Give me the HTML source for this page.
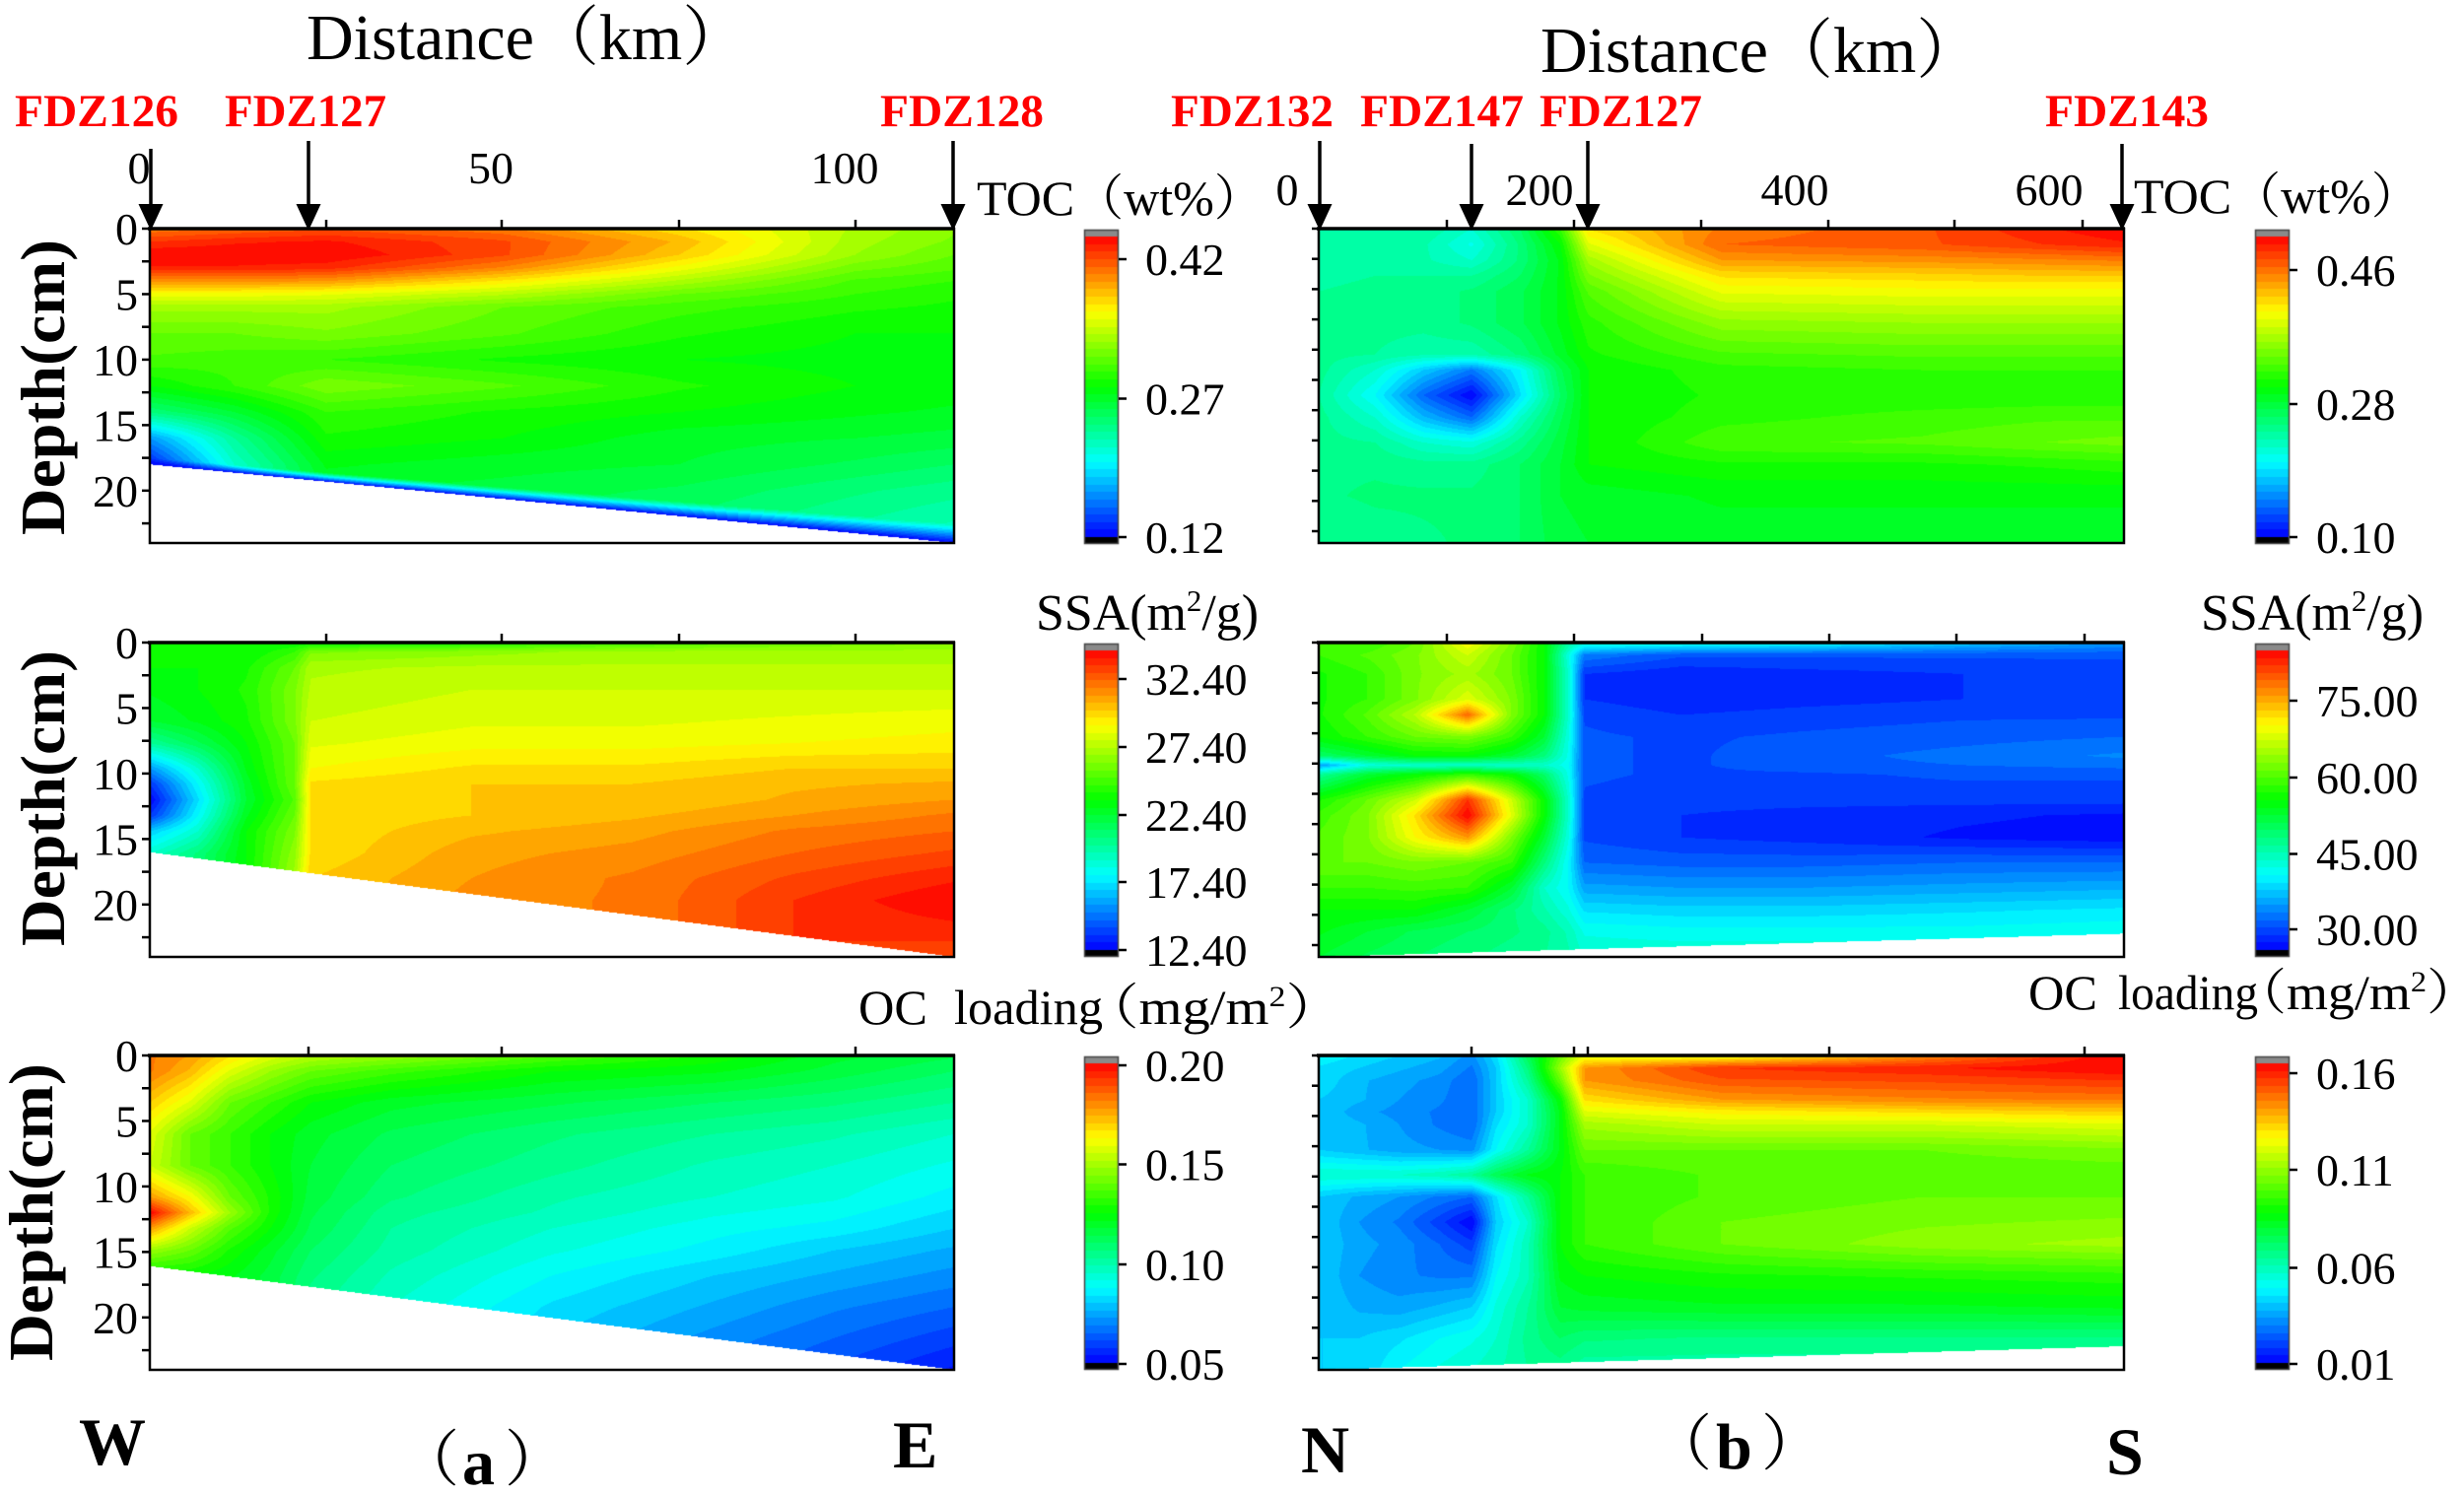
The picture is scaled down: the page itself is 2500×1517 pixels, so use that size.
<!DOCTYPE html>
<html><head><meta charset="utf-8">
<style>
html,body{margin:0;padding:0;background:#fff;}
#wrap{position:relative;width:2500px;height:1517px;overflow:hidden;background:#fff;}
canvas{position:absolute;left:0;top:0;}
svg{position:absolute;left:0;top:0;}
text{font-family:"Liberation Serif","Noto Serif CJK SC",serif;fill:#000;}
.b{font-weight:bold;}
.r{fill:#ff0000;font-weight:bold;font-size:47px;}
.t{font-size:46px;}
</style></head>
<body><div id="wrap">
<canvas id="c" width="2500" height="1517"></canvas>
<svg id="s" width="2500" height="1517" viewBox="0 0 2500 1517">
<!-- titles -->
<text x="311" y="60" font-size="66">Distance（km）</text>
<text x="1563" y="73" font-size="66">Distance（km）</text>
<!-- station labels -->
<text class="r" x="15" y="128" textLength="166" lengthAdjust="spacingAndGlyphs">FDZ126</text>
<text class="r" x="228" y="128" textLength="164" lengthAdjust="spacingAndGlyphs">FDZ127</text>
<text class="r" x="893" y="128" textLength="166" lengthAdjust="spacingAndGlyphs">FDZ128</text>
<text class="r" x="1188" y="128" textLength="165" lengthAdjust="spacingAndGlyphs">FDZ132</text>
<text class="r" x="1380" y="128" textLength="166" lengthAdjust="spacingAndGlyphs">FDZ147</text>
<text class="r" x="1562" y="128" textLength="165" lengthAdjust="spacingAndGlyphs">FDZ127</text>
<text class="r" x="2075" y="128" textLength="166" lengthAdjust="spacingAndGlyphs">FDZ143</text>
<!-- x tick labels -->
<text class="t" x="141" y="186" text-anchor="middle">0</text>
<text class="t" x="498" y="186" text-anchor="middle">50</text>
<text class="t" x="857" y="186" text-anchor="middle">100</text>
<text class="t" x="1306" y="208" text-anchor="middle">0</text>
<text class="t" x="1562" y="208" text-anchor="middle">200</text>
<text class="t" x="1821" y="208" text-anchor="middle">400</text>
<text class="t" x="2079" y="208" text-anchor="middle">600</text>
<!-- colorbar titles -->
<text x="991" y="218" font-size="50">TOC（wt%）</text>
<text x="2165" y="216" font-size="50">TOC（wt%）</text>
<text x="1051" y="639" font-size="52" textLength="226" lengthAdjust="spacingAndGlyphs">SSA(m<tspan dy="-19" font-size="31">2</tspan><tspan dy="19">/g)</tspan></text>
<text x="2233" y="639" font-size="52" textLength="226" lengthAdjust="spacingAndGlyphs">SSA(m<tspan dy="-19" font-size="31">2</tspan><tspan dy="19">/g)</tspan></text>
<text x="871" y="1039" font-size="50" textLength="70" lengthAdjust="spacingAndGlyphs">OC</text>
<text x="968" y="1039" font-size="50" textLength="151" lengthAdjust="spacingAndGlyphs">loading</text>
<text x="1099" y="1039" font-size="50" textLength="262" lengthAdjust="spacingAndGlyphs">（mg/m<tspan dy="-18" font-size="30">2</tspan><tspan dy="18">）</tspan></text>
<text x="2058" y="1024" font-size="50" textLength="70" lengthAdjust="spacingAndGlyphs">OC</text>
<text x="2149" y="1024" font-size="50" textLength="142" lengthAdjust="spacingAndGlyphs">loading</text>
<text x="2266" y="1024" font-size="50" textLength="250" lengthAdjust="spacingAndGlyphs">（mg/m<tspan dy="-18" font-size="30">2</tspan><tspan dy="18">）</tspan></text>
<!-- depth labels -->
<text class="b" font-size="64" text-anchor="middle" transform="translate(65,393) rotate(-90)" textLength="300" lengthAdjust="spacingAndGlyphs">Depth(cm)</text>
<text class="b" font-size="64" text-anchor="middle" transform="translate(65,810) rotate(-90)" textLength="300" lengthAdjust="spacingAndGlyphs">Depth(cm)</text>
<text class="b" font-size="64" text-anchor="middle" transform="translate(53,1230) rotate(-90)" textLength="302" lengthAdjust="spacingAndGlyphs">Depth(cm)</text>
<!-- y tick labels -->
<text class="t" x="140" y="248" text-anchor="end">0</text>
<text class="t" x="140" y="314.5" text-anchor="end">5</text>
<text class="t" x="140" y="381" text-anchor="end">10</text>
<text class="t" x="140" y="447.5" text-anchor="end">15</text>
<text class="t" x="140" y="514" text-anchor="end">20</text>
<text class="t" x="140" y="668" text-anchor="end">0</text>
<text class="t" x="140" y="734.5" text-anchor="end">5</text>
<text class="t" x="140" y="801" text-anchor="end">10</text>
<text class="t" x="140" y="867.5" text-anchor="end">15</text>
<text class="t" x="140" y="934" text-anchor="end">20</text>
<text class="t" x="140" y="1087" text-anchor="end">0</text>
<text class="t" x="140" y="1153.5" text-anchor="end">5</text>
<text class="t" x="140" y="1220" text-anchor="end">10</text>
<text class="t" x="140" y="1286.5" text-anchor="end">15</text>
<text class="t" x="140" y="1353" text-anchor="end">20</text>
<!-- colorbar labels -->
<text class="t" x="1162" y="279">0.42</text>
<text class="t" x="1162" y="420.5">0.27</text>
<text class="t" x="1162" y="561">0.12</text>
<text class="t" x="2350" y="290">0.46</text>
<text class="t" x="2350" y="426">0.28</text>
<text class="t" x="2350" y="561">0.10</text>
<text class="t" x="1162" y="705">32.40</text>
<text class="t" x="1162" y="774">27.40</text>
<text class="t" x="1162" y="843">22.40</text>
<text class="t" x="1162" y="911">17.40</text>
<text class="t" x="1162" y="980">12.40</text>
<text class="t" x="2350" y="727">75.00</text>
<text class="t" x="2350" y="805">60.00</text>
<text class="t" x="2350" y="882.5">45.00</text>
<text class="t" x="2350" y="959">30.00</text>
<text class="t" x="1162" y="1097">0.20</text>
<text class="t" x="1162" y="1197.5">0.15</text>
<text class="t" x="1162" y="1299">0.10</text>
<text class="t" x="1162" y="1400">0.05</text>
<text class="t" x="2350" y="1105">0.16</text>
<text class="t" x="2350" y="1203">0.11</text>
<text class="t" x="2350" y="1302.5">0.06</text>
<text class="t" x="2350" y="1400">0.01</text>
<!-- bottom letters -->
<text class="b" x="80" y="1486" font-size="68">W</text>
<text class="b" x="906" y="1489" font-size="68">E</text>
<text class="b" x="1320" y="1494" font-size="68">N</text>
<text class="b" x="2137" y="1496" font-size="68">S</text>
<text x="404" y="1502" font-size="62">（</text>
<text class="b" x="469" y="1506" font-size="66">a</text>
<text x="512" y="1502" font-size="62">）</text>
<text x="1675" y="1486" font-size="62">（</text>
<text class="b" x="1741" y="1490" font-size="66">b</text>
<text x="1787" y="1486" font-size="62">）</text>
<g id="g"></g>
</svg>
</div>
<script>
(function(){
var cv=document.getElementById('c'),ctx=cv.getContext('2d');
var N=40,LUT=[];
var st=[[0,0,0,255],[.25,0,255,255],[.5,0,255,0],[.75,255,255,0],[1,255,0,0]];
function raw(t){for(var i=0;i<4;i++){if(t<=st[i+1][0]){var f=(t-st[i][0])/(st[i+1][0]-st[i][0]);return [Math.round(st[i][1]+f*(st[i+1][1]-st[i][1])),Math.round(st[i][2]+f*(st[i+1][2]-st[i][2])),Math.round(st[i][3]+f*(st[i+1][3]-st[i][3]))];}}return [255,0,0];}
for(var q=0;q<N;q++)LUT.push(raw((q+0.5)/N));
function col(t){if(!(t>=0))t=0;if(t>1)t=1;var q=Math.floor(t*N);if(q>=N)q=N-1;return LUT[q];}
function ip(a,v){var i=0;while(i<a.length-2&&v>a[i+1])i++;var f=(v-a[i])/(a[i+1]-a[i]);if(f<0)f=0;if(f>1)f=1;return [i,f];}
function plot(X,Y,W,H,cols,rows,V,bnd,edge){
 var img=ctx.createImageData(W,H),d=img.data;
 for(var py=0;py<H;py++){var fy=(py+0.5)/H;var r=ip(rows,fy),j=r[0],g=r[1];
  for(var px=0;px<W;px++){var fx=(px+0.5)/W;var k=(py*W+px)*4;
   if(bnd&&fy>bnd(fx)){d[k]=d[k+1]=d[k+2]=255;d[k+3]=255;continue;}
   var c=ip(cols,fx),i=c[0],f=c[1];
   var t=(1-f)*((1-g)*V[i][j]+g*V[i][j+1])+f*((1-g)*V[i+1][j]+g*V[i+1][j+1]);
   if(edge){var w=edge.w0+(edge.w1-edge.w0)*fx;var dist=bnd(fx)-fy;if(dist<w){var s=dist/w;if(s<0)s=0;t=edge.v+(t-edge.v)*s;}}
   var cc=col(t);d[k]=cc[0];d[k+1]=cc[1];d[k+2]=cc[2];d[k+3]=255;}}
 ctx.putImageData(img,X,Y);}
function rowsT(rows,V){var nc=V[0].length,out=[];for(var c=0;c<nc;c++){out.push([]);for(var r=0;r<rows.length;r++)out[c].push(V[r][c]);}return out;}

// Top-left TOC
var tlC=[0,0.105,0.219,0.439,0.658,0.877,1.0];
var tlD=[0,1,2,3,4,5,6,8,10,12,14,16,18,20,24];var tlR=tlD.map(function(x){return x/24;});
var tlV=rowsT(tlR,[
[.88,.9,.92,.88,.78,.67,.63],
[.95,.97,.98,.93,.82,.66,.62],
[1.0,1.0,1.0,.93,.8,.65,.6],
[.97,.97,.96,.87,.74,.61,.58],
[.86,.86,.85,.77,.67,.57,.55],
[.74,.74,.73,.68,.6,.55,.53],
[.66,.66,.66,.6,.56,.53,.52],
[.6,.6,.62,.58,.53,.5,.5],
[.57,.56,.55,.52,.5,.49,.49],
[.5,.55,.62,.58,.53,.5,.49],
[.38,.45,.55,.52,.5,.48,.47],
[.15,.35,.52,.5,.46,.45,.44],
[.02,.3,.48,.46,.45,.42,.4],
[.02,.3,.45,.44,.42,.38,.36],
[.02,.3,.4,.4,.38,.33,.3]]);
plot(152,232,816,319,tlC,tlR,tlV,function(fx){return 0.75+0.25*fx;},{w0:0.02,w1:0.06,v:0.0});

// Top-right TOC
var trC=[0,.07,.13,.19,.25,.3,.335,.5,.75,.9,1.0];
var trR=[0,.05,.1,.15,.2,.3,.4,.45,.53,.6,.68,.75,.85,1.0];
var trV=[
[.33,.33,.33,.34,.35,.35,.36,.36,.35,.36,.36,.37,.37,.35],
[.35,.34,.34,.35,.36,.36,.35,.3,.25,.3,.35,.37,.38,.36],
[.35,.33,.33,.35,.36,.36,.33,.2,.1,.18,.3,.36,.38,.37],
[.3,.27,.3,.35,.38,.38,.33,.12,.0,.1,.28,.36,.38,.38],
[.4,.38,.38,.4,.42,.42,.38,.25,.22,.3,.36,.4,.4,.4],
[.55,.5,.48,.48,.48,.48,.46,.42,.4,.42,.44,.45,.45,.44],
[.78,.72,.66,.62,.58,.54,.52,.5,.5,.5,.5,.5,.46,.45],
[.88,.9,.85,.78,.73,.64,.57,.54,.53,.54,.57,.52,.48,.46],
[.92,.92,.86,.79,.74,.65,.58,.55,.53,.56,.58,.52,.48,.46],
[.97,.95,.87,.8,.74,.65,.58,.55,.53,.57,.6,.53,.48,.46],
[1,.97,.88,.8,.74,.65,.58,.55,.53,.57,.61,.54,.48,.46]];
plot(1338,232,817,319,trC,trR,trV,null,null);

// Middle-left SSA
var mlC=[0,.06,.12,.18,.2,.4,.6,.8,1.0];
var mlR=[0,.03,.08,.15,.25,.32,.4,.45,.5,.55,.6,.67,.75,.82,.9,1.0];
var mlV=[
[.5,.5,.5,.48,.45,.35,.15,.05,.0,.05,.2,.3,.3,.3,.3,.3],
[.5,.5,.5,.5,.48,.42,.3,.25,.22,.25,.3,.38,.4,.4,.4,.4],
[.5,.5,.52,.53,.52,.5,.48,.46,.45,.47,.5,.5,.5,.5,.5,.5],
[.5,.55,.6,.62,.62,.6,.6,.6,.58,.6,.62,.64,.66,.66,.66,.66],
[.5,.62,.67,.68,.7,.72,.75,.78,.78,.78,.78,.78,.8,.8,.8,.8],
[.52,.64,.68,.7,.72,.74,.78,.8,.8,.8,.82,.84,.85,.86,.86,.86],
[.56,.66,.68,.7,.72,.74,.78,.8,.8,.82,.84,.86,.88,.88,.88,.88],
[.6,.66,.68,.7,.73,.75,.8,.82,.83,.85,.88,.9,.93,.95,.95,.95],
[.62,.66,.68,.7,.74,.76,.8,.83,.85,.88,.9,.93,.97,1.0,.97,.93]];
plot(152,652,816,319,mlC,mlR,mlV,function(fx){return 0.667+0.333*fx;},null);

// Middle-right SSA
var mrC=[0,.06,.12,.185,.24,.28,.31,.33,.45,.6,.8,1.0];
var mrR=[0,.04,.1,.18,.23,.3,.36,.39,.42,.5,.55,.62,.7,.78,.85,.92,1.0];
var mrV=[
[.55,.55,.52,.52,.52,.5,.4,.15,.35,.52,.56,.58,.6,.55,.5,.48,.45],
[.55,.58,.55,.55,.58,.55,.45,.28,.45,.6,.62,.62,.6,.55,.5,.45,.42],
[.6,.62,.62,.62,.68,.6,.5,.3,.5,.7,.78,.75,.62,.56,.5,.42,.4],
[.75,.7,.66,.72,.9,.62,.5,.3,.55,.95,1.0,.85,.6,.55,.45,.4,.38],
[.62,.6,.6,.62,.62,.55,.45,.3,.5,.7,.72,.62,.55,.45,.38,.38,.36],
[.5,.5,.5,.5,.5,.45,.38,.3,.4,.5,.5,.45,.38,.3,.33,.36,.35],
[.35,.28,.3,.3,.3,.28,.27,.26,.27,.3,.3,.28,.25,.25,.28,.32,.33],
[.3,.12,.05,.05,.07,.08,.08,.08,.08,.07,.07,.07,.1,.16,.22,.27,.3],
[.28,.08,.03,.03,.05,.07,.07,.07,.07,.06,.05,.05,.09,.15,.21,.26,.3],
[.26,.08,.04,.04,.06,.08,.09,.09,.07,.06,.04,.04,.09,.15,.21,.26,.3],
[.2,.08,.05,.05,.07,.09,.11,.1,.08,.06,.03,.02,.1,.16,.22,.26,.3],
[.15,.08,.06,.06,.07,.1,.13,.11,.08,.06,.02,.01,.1,.17,.23,.27,.3]];
plot(1338,652,817,319,mrC,mrR,mrV,function(fx){return 1.0-0.074*fx;},null);

// Bottom-left OC
var blC=[0,.05,.1,.15,.2,.3,.5,.7,.85,1.0];
var blR=[0,.05,.15,.25,.35,.45,.5,.55,.62,.7,.8,.9,1.0];
var blV=[
[.88,.88,.8,.72,.7,.85,1.0,.85,.65,.5,.5,.5,.5],
[.85,.82,.72,.6,.6,.75,.82,.7,.6,.5,.5,.5,.5],
[.78,.72,.6,.55,.55,.6,.65,.58,.52,.48,.47,.47,.47],
[.72,.65,.55,.5,.5,.52,.52,.5,.46,.44,.44,.44,.44],
[.68,.6,.5,.46,.45,.44,.43,.42,.4,.38,.36,.36,.36],
[.65,.56,.46,.42,.4,.38,.36,.35,.34,.32,.3,.3,.3],
[.58,.5,.43,.38,.36,.33,.32,.3,.28,.25,.22,.2,.2],
[.52,.48,.4,.35,.32,.3,.28,.26,.24,.2,.17,.14,.12],
[.46,.44,.38,.33,.3,.28,.26,.24,.2,.17,.13,.1,.07],
[.43,.4,.35,.3,.27,.24,.22,.2,.17,.14,.1,.06,.02]];
plot(152,1071,816,319,blC,blR,blV,function(fx){return 0.67+0.33*fx;},null);

// Bottom-right OC
var brC=[0,.05,.1,.15,.19,.22,.26,.3,.33,.5,.75,1.0];
var brR=[0,.04,.08,.14,.18,.22,.3,.38,.45,.53,.6,.7,.8,.9,1.0];
var brV=[
[.25,.22,.22,.2,.2,.2,.2,.3,.2,.2,.2,.2,.2,.2,.2],
[.22,.2,.18,.18,.16,.18,.18,.3,.17,.15,.16,.15,.17,.2,.2],
[.2,.18,.16,.15,.14,.15,.16,.3,.15,.12,.14,.13,.16,.22,.25],
[.18,.16,.14,.13,.12,.12,.15,.32,.12,.06,.1,.12,.18,.25,.28],
[.14,.12,.1,.1,.1,.1,.14,.35,.1,.0,.06,.12,.2,.27,.3],
[.22,.2,.2,.2,.2,.22,.25,.42,.22,.2,.22,.25,.28,.3,.32],
[.42,.38,.35,.3,.3,.3,.35,.48,.35,.3,.32,.32,.35,.36,.35],
[.6,.65,.6,.5,.48,.48,.48,.5,.5,.5,.5,.48,.45,.4,.36],
[.72,.85,.85,.78,.72,.66,.6,.55,.55,.55,.55,.5,.46,.38,.33],
[.72,.95,.92,.85,.76,.7,.6,.58,.58,.6,.6,.52,.47,.37,.33],
[.86,.97,.93,.87,.78,.7,.6,.58,.6,.62,.64,.53,.47,.37,.33],
[1,1,.95,.88,.8,.72,.62,.58,.6,.63,.66,.54,.48,.37,.33]];
plot(1338,1071,817,319,brC,brR,brV,function(fx){return 1.0-0.075*fx;},null);

// colorbars
function cbar(x,top,bot){
 var w=35;ctx.fillStyle='#8a8a8a';ctx.fillRect(x,top,w,7);
 ctx.fillStyle='#000';ctx.fillRect(x,bot-7,w,7);
 var a=top+7,b=bot-7;
 for(var y=a;y<b;y++){var t=(b-y-0.5)/(b-a);var c=col(t);ctx.fillStyle='rgb('+c[0]+','+c[1]+','+c[2]+')';ctx.fillRect(x,y,w,1);}
 ctx.strokeStyle='#444';ctx.lineWidth=1.5;ctx.strokeRect(x+0.5,top+0.5,w-1,bot-top-1);}
cbar(1100,233,552);cbar(2288,233,552);
cbar(1100,653,971);cbar(2288,653,971);
cbar(1100,1072,1390);cbar(2288,1072,1390);

// svg lines
var g=document.getElementById('g'),NS='http://www.w3.org/2000/svg';
function el(n,a){var e=document.createElementNS(NS,n);for(var k in a)e.setAttribute(k,a[k]);g.appendChild(e);return e;}
function ln(x1,y1,x2,y2,w){el('line',{x1:x1,y1:y1,x2:x2,y2:y2,stroke:'#000','stroke-width':w||2.5});}
var P=[[152,232,816],[1338,232,817],[152,652,816],[1338,652,817],[152,1071,816],[1338,1071,817]];
P.forEach(function(p){el('rect',{x:p[0],y:p[1],width:p[2],height:319,fill:'none',stroke:'#000','stroke-width':2.5});ln(p[0]-2,p[1],p[0]+p[2]+1,p[1],3.5);});
[232,652,1071].forEach(function(y0){for(var k=0;k<10;k++){var y=y0+k*33.23;ln(144,y,152,y,2.5);}});
[232,652,1071].forEach(function(y0){for(var k=0;k<11;k++){var y=y0+k*30.7;ln(1331,y,1338,y,2.5);}});
function tt(xs,y){xs.forEach(function(x){ln(x,y,x,y-9,2.5);});}
tt([331,509,689,868],232);tt([331,509,689,868],652);tt([313,509,868],1071);
tt([1468,1597,1726,1855,1983,2113],232);tt([1468,1597,1727,1856,1985,2115],652);tt([1493,1597,1611,1856,2115],1071);
[[1135,[263,404.5,545]],[2323,[274,410,545]],[1135,[689,758,827,895,964]],[2323,[711,789,866.5,943]],[1135,[1081,1181.5,1283,1384]],[2323,[1089,1187,1286.5,1384]]].forEach(function(c){c[1].forEach(function(y){ln(c[0],y,c[0]+8,y,2.5);});});
function arrow(x,y0){ln(x,y0,x,212,3.5);el('polygon',{points:(x-12.5)+',207 '+(x+12.5)+',207 '+x+',234',fill:'#000'});}
arrow(153,151);arrow(313,143);arrow(967,143);
arrow(1339,143);arrow(1493,146);arrow(1611,143);arrow(2153,146);
})();
</script>
</body></html>
